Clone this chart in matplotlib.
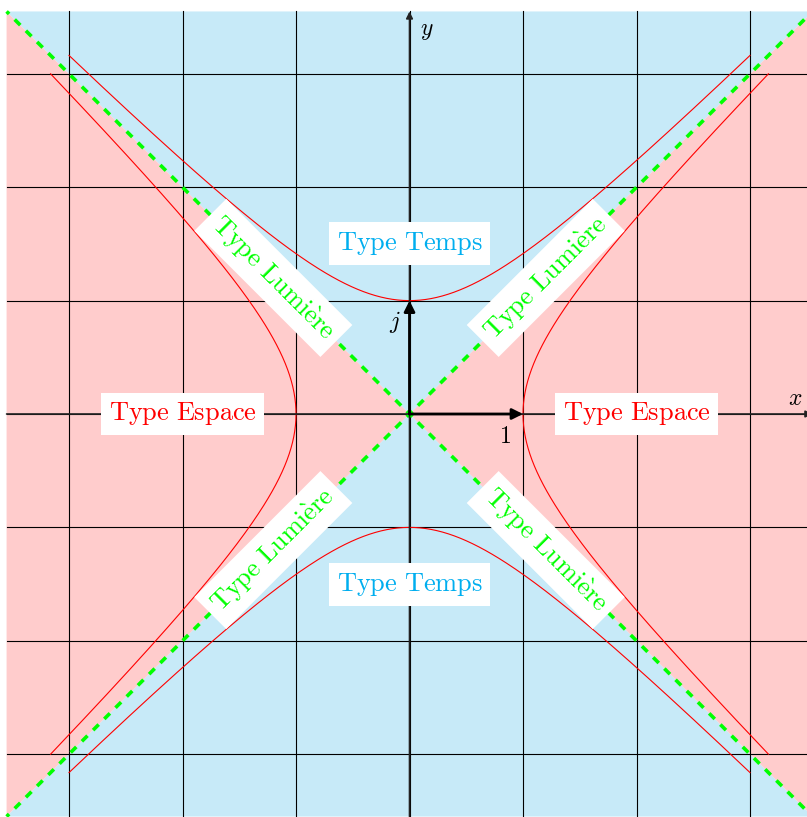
import numpy as np
import matplotlib
matplotlib.use('Agg')
import matplotlib.pyplot as plt

plt.rcParams['mathtext.fontset'] = 'cm'

# picture content (data units: 1 = one grid square)
extent = 3.55
grid_ticks = [-3, -2, -1, 0, 1, 2, 3]
branch_limit = 3.0          # hyperbola drawn until the other coordinate reaches +-3
temps_y = [1.5, -1.5]
espace_x = [-2.0, 2.0]
lumiere_x = [-1.2, 1.2, -1.2, 1.2]
lumiere_y = [1.2, 1.2, -1.2, -1.2]
lumiere_rot = [-45, 45, 45, -45]

red_bg = '#FFCCCC'
blue_bg = '#C7EAF8'
cyan_txt = '#00AEEF'
green = '#00FF00'

fig = plt.figure(figsize=(8.07, 8.17), dpi=100)
ax = fig.add_axes([0, 0, 1, 1])
ax.set_xlim(-3.608, 3.502)
ax.set_ylim(-3.554, 3.651)
ax.axis('off')

e = extent
# light cone regions
ax.fill([-e, 0, -e], [-e, 0, e], color=red_bg, lw=0, zorder=0)
ax.fill([e, 0, e], [e, 0, -e], color=red_bg, lw=0, zorder=0)
ax.fill([-e, 0, e], [e, 0, e], color=blue_bg, lw=0, zorder=0)
ax.fill([-e, 0, e], [-e, 0, -e], color=blue_bg, lw=0, zorder=0)

# grid
for g in grid_ticks:
    ax.plot([g, g], [-e, e], color='black', lw=0.8, zorder=1)
    ax.plot([-e, e], [g, g], color='black', lw=0.8, zorder=1)

# hyperbolas x^2 - y^2 = 1 and y^2 - x^2 = 1
t = np.linspace(-np.arcsinh(branch_limit), np.arcsinh(branch_limit), 300)
for sx, sy, swap in [(1, 1, False), (-1, 1, False), (1, 1, True), (1, -1, True)]:
    a, b = np.cosh(t), np.sinh(t)
    if swap:
        ax.plot(b * sx, a * sy, color='red', lw=0.8, zorder=2)
    else:
        ax.plot(a * sx, b * sy, color='red', lw=0.8, zorder=2)

# light lines, dash centred on origin
lw_g = 2.6
dash = 5.7
period = 11.4
half_len = e * 113.45 * np.sqrt(2) * 72 / 100
off = ((dash / 2 - half_len) % period)
ls = (off / lw_g, (dash / lw_g, (period - dash) / lw_g))
ax.plot([-e, e], [-e, e], color=green, lw=lw_g, linestyle=ls, zorder=3)
ax.plot([-e, e], [e, -e], color=green, lw=lw_g, linestyle=ls, zorder=3)

# axes
ax.annotate('', xy=(e, 0), xytext=(-e, 0), annotation_clip=False,
            arrowprops=dict(arrowstyle='-|>', lw=1.2, color='#222222',
                            mutation_scale=10, shrinkA=0, shrinkB=0), zorder=4)
ax.annotate('', xy=(0, e), xytext=(0, -e), annotation_clip=False,
            arrowprops=dict(arrowstyle='-|>', lw=1.2, color='#222222',
                            mutation_scale=10, shrinkA=0, shrinkB=0), zorder=4)
# unit vectors
ax.annotate('', xy=(1, 0), xytext=(0, 0),
            arrowprops=dict(arrowstyle='-|>', lw=2.0, color='black',
                            mutation_scale=16, shrinkA=0, shrinkB=0), zorder=4)
ax.annotate('', xy=(0, 1), xytext=(0, 0),
            arrowprops=dict(arrowstyle='-|>', lw=2.0, color='black',
                            mutation_scale=16, shrinkA=0, shrinkB=0), zorder=4)

ax.text(3.40, 0.14, r'$x$', fontsize=17, ha='center', va='center')
ax.text(0.15, 3.39, r'$y$', fontsize=17, ha='center', va='center')
ax.text(-0.13, 0.81, r'$j$', fontsize=17, ha='center', va='center')
ax.text(0.84, -0.19, r'$1$', fontsize=17, ha='center', va='center')

box = dict(boxstyle='square,pad=0.3', fc='white', ec='none')
for y in temps_y:
    ax.text(0, y, r'$\mathrm{Type\ Temps}$', color=cyan_txt, fontsize=19,
            ha='center', va='center', bbox=box, zorder=6)
for x in espace_x:
    ax.text(x, 0, r'$\mathrm{Type\ Espace}$', color='red', fontsize=19,
            ha='center', va='center', bbox=box, zorder=6)
for x, y, r in zip(lumiere_x, lumiere_y, lumiere_rot):
    ax.text(x, y, r'$\mathrm{Type\ Lumi\grave{e}re}$', color=green, fontsize=19,
            ha='center', va='center', rotation=r, rotation_mode='anchor',
            bbox=box, zorder=6)

fig.savefig('out.png', dpi=100)
